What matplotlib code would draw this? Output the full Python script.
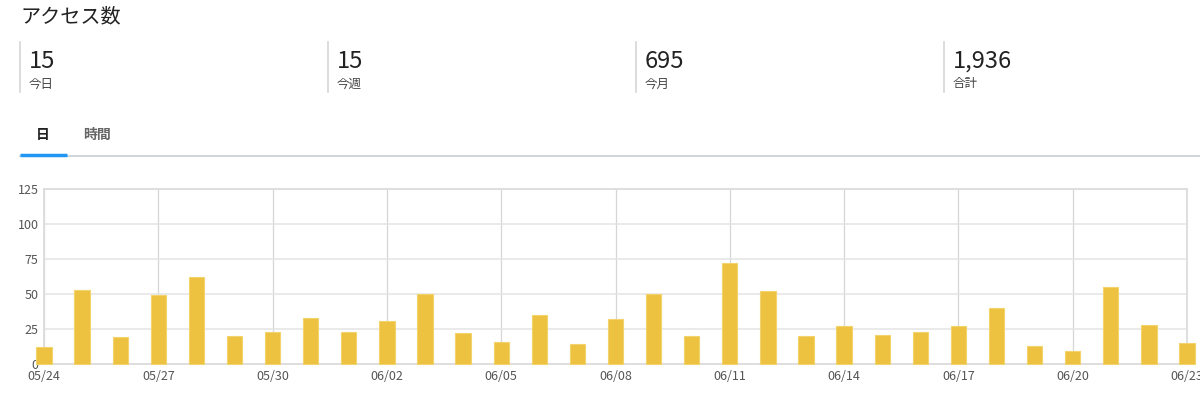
import matplotlib.pyplot as plt
import numpy as np

plt.rcParams['font.family'] = ['Noto Sans CJK JP', 'DejaVu Sans']

# daily access counts 05/24 - 06/23
dates = ["05/24", "05/25", "05/26", "05/27", "05/28", "05/29", "05/30", "05/31",
         "06/01", "06/02", "06/03", "06/04", "06/05", "06/06", "06/07", "06/08",
         "06/09", "06/10", "06/11", "06/12", "06/13", "06/14", "06/15", "06/16",
         "06/17", "06/18", "06/19", "06/20", "06/21", "06/22", "06/23"]
visits = [12, 53, 19, 49, 62, 20, 23, 33, 23, 31, 50, 22, 16, 35, 14, 32,
          50, 20, 72, 52, 20, 27, 21, 23, 27, 40, 13, 9, 55, 28, 15]

stat_values = ["15", "15", "695", "1,936"]
stat_labels = ["今日", "今週", "今月", "合計"]
tabs = ["日", "時間"]

W, H = 1200, 408
fig = plt.figure(figsize=(12, 4.08), dpi=100)

def fx(px):
    return px / W

def fy(py):
    return 1 - py / H

# header
fig.text(fx(20), fy(17), "アクセス数", fontsize=14.5, color="#222222", va="center", ha="left")

for i, (v, lab) in enumerate(zip(stat_values, stat_labels)):
    x0 = 20 + i * 308
    fig.add_artist(plt.Line2D([fx(x0), fx(x0)], [fy(42), fy(92)], color="#d6d6d6", lw=1.2))
    fig.text(fx(x0 + 9), fy(61), v, fontsize=17, color="#222222", va="center", ha="left")
    fig.text(fx(x0 + 9), fy(84), lab, fontsize=9, color="#444444", va="center", ha="left")

# tabs
fig.text(fx(43), fy(135), tabs[0], fontsize=10, fontweight="bold", color="#222222", va="center", ha="center")
fig.text(fx(97), fy(135), tabs[1], fontsize=10, fontweight="bold", color="#666666", va="center", ha="center")
fig.add_artist(plt.Line2D([fx(20), 1], [fy(156), fy(156)], color="#c8cdd3", lw=1.2))
fig.add_artist(plt.Line2D([fx(20), fx(67)], [fy(155), fy(155)], color="#2196f3", lw=2.5,
                          solid_capstyle="butt"))

# chart
ax = fig.add_axes([fx(44), fy(364), fx(1187) - fx(44), fy(189) - fy(364)])
x = np.arange(len(dates))
ax.bar(x, visits, width=0.4, color="#edc240", edgecolor="#f3d36d", linewidth=0.8,
       clip_on=False, zorder=3)

ax.set_xlim(0, len(dates) - 1)
ax.set_ylim(0, 125)
ax.set_yticks([0, 25, 50, 75, 100, 125])
ax.set_xticks(x[::3])
ax.set_xticklabels(dates[::3])
ax.grid(True, axis="y", color="#e4e4e4", lw=1.1, zorder=0)
ax.grid(True, axis="x", color="#d6d6d6", lw=0.9, zorder=0)
for s in ax.spines.values():
    s.set_color("#dcdcdc")
    s.set_linewidth(1.3)
ax.tick_params(length=0, labelsize=9, labelcolor="#555555", pad=4)
ax.tick_params(axis="x", pad=4)

fig.savefig("out.png", dpi=100)
